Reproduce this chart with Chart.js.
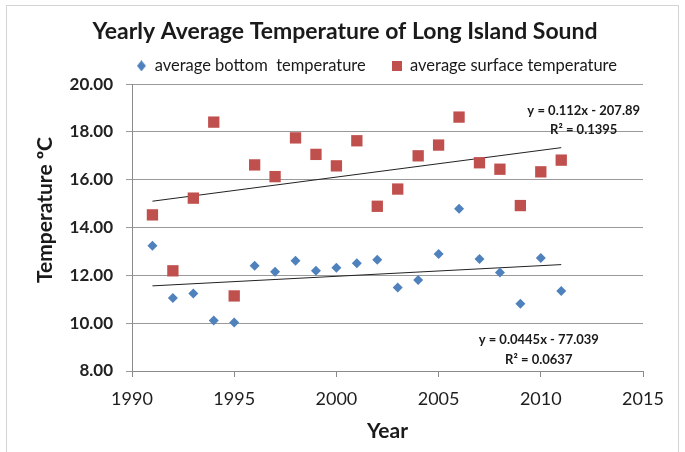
<!DOCTYPE html>
<html>
<head>
<meta charset="utf-8">
<script src="https://cdn.jsdelivr.net/npm/chart.js@4"></script>
<style>
  html, body { margin: 0; background: #fff; }
  canvas { display: block; }
</style>
</head>
<body>
<canvas id="chart" width="685" height="452"></canvas>
<script>
const years = [1991, 1992, 1993, 1994, 1995, 1996, 1997, 1998, 1999, 2000, 2001,
  2002, 2003, 2004, 2005, 2006, 2007, 2008, 2009, 2010, 2011];
const bottomTemps = [13.24, 11.05, 11.24, 10.11, 10.03, 12.40, 12.15, 12.61, 12.19, 12.32, 12.51,
  12.65, 11.49, 11.81, 12.89, 14.79, 12.68, 12.12, 10.81, 12.73, 11.35];
const surfaceTemps = [14.53, 12.19, 15.23, 18.41, 11.14, 16.62, 16.13, 17.75, 17.06, 16.58, 17.63,
  14.89, 15.61, 17.00, 17.45, 18.62, 16.71, 16.44, 14.92, 16.33, 16.82];
const seriesNames = ['average bottom  temperature', 'average surface temperature'];
const yearTicks = [1990, 1995, 2000, 2005, 2010, 2015];
const tempTicks = [8, 10, 12, 14, 16, 18, 20];

// trendline equations as printed on the chart (bottom, surface)
const fitSlopes = [0.0445, 0.112];
const fitIntercepts = [-77.039, -207.89];
const fitR2 = [0.0637, 0.1395];
// where each equation label sits, in data units (year, temp)
const fitLabelAt = [[2009.9, 9.3], [2012.1, 18.9]];

const BLUE = '#4f81bd';
const RED = '#c0504d';
const FONT = 'Lato, "Open Sans", sans-serif';

const points = (vals) => years.map((x, i) => ({ x, y: vals[i] }));
const trend = (k) => [years[0], years[years.length - 1]].map(x => ({ x, y: fitSlopes[k] * x + fitIntercepts[k] }));

const marker = (shape, w, h, color) => {
  const c = document.createElement('canvas');
  c.width = w; c.height = h;
  const g = c.getContext('2d');
  g.fillStyle = color;
  if (shape === 'diamond') {
    g.beginPath();
    g.moveTo(w / 2, 0); g.lineTo(w, h / 2); g.lineTo(w / 2, h); g.lineTo(0, h / 2);
    g.closePath();
    g.fill();
  } else {
    g.fillRect(0, 0, w, h);
  }
  return c;
}
const legendMarkers = [marker('diamond', 9, 11, BLUE), marker('square', 10, 10, RED)];

const decor = {
  id: 'decor',
  beforeDraw(chart) {
    const { ctx, width, height } = chart;
    ctx.save();
    ctx.fillStyle = '#fff';
    ctx.fillRect(0, 0, width, height);
    ctx.strokeStyle = '#d4d4d4';
    ctx.lineWidth = 1;
    ctx.strokeRect(6.5, 5.5, 672, height + 10);
    ctx.restore();
  },
  afterDraw(chart) {
    const { ctx, scales: { x, y } } = chart;
    ctx.save();
    // y axis title
    ctx.translate(45, 210);
    ctx.rotate(-Math.PI / 2);
    ctx.font = `bold 21px ${FONT}`;
    ctx.fillStyle = '#1a1a1a';
    ctx.textAlign = 'center';
    ctx.textBaseline = 'middle';
    ctx.fillText('Temperature ºC', 0, 0);
    ctx.restore();

    ctx.save();
    ctx.font = `bold 13px ${FONT}`;
    ctx.fillStyle = '#1a1a1a';
    ctx.textAlign = 'center';
    ctx.textBaseline = 'middle';
    fitLabelAt.forEach(([yr, t], k) => {
      const px = x.getPixelForValue(yr);
      const py = y.getPixelForValue(t);
      ctx.fillText(`y = ${fitSlopes[k]}x - ${Math.abs(fitIntercepts[k])}`, px, py);
      ctx.fillText(`R² = ${fitR2[k]}`, px, py + 19.5);
    });
    ctx.restore();
  }
};

new Chart(document.getElementById('chart'), {
  type: 'scatter',
  data: {
    datasets: [
      { label: seriesNames[0], data: points(bottomTemps), pointStyle: 'rectRot', pointRadius: 5,
        backgroundColor: BLUE, borderWidth: 0 },
      { label: seriesNames[1], data: points(surfaceTemps), pointStyle: 'rect', pointRadius: 8,
        backgroundColor: RED, borderWidth: 0 },
      { type: 'line', label: 'trend bottom', data: trend(0), borderColor: '#222', borderWidth: 1,
        pointRadius: 0 },
      { type: 'line', label: 'trend surface', data: trend(1), borderColor: '#222', borderWidth: 1,
        pointRadius: 0 },
    ]
  },
  options: {
    responsive: false,
    animation: false,
    devicePixelRatio: 1,
    layout: { padding: { left: 47, right: 42, top: 0, bottom: 0 } },
    scales: {
      x: {
        type: 'linear', min: 1990, max: 2015,
        afterBuildTicks: (s) => { s.ticks = yearTicks.map(value => ({ value })); },
        afterFit: (s) => { s.height = 81; },
        ticks: { callback: (v) => String(v), font: { family: FONT, size: 18 }, color: '#1e1e1e', padding: 11 },
        grid: { drawOnChartArea: false, drawTicks: true, tickLength: 6, color: '#8a8a8a' },
        border: { color: '#8a8a8a' },
        title: { display: true, text: 'Year', color: '#1a1a1a',
          font: { family: FONT, size: 21, weight: 'bold' }, padding: { top: 0, bottom: 8 } }
      },
      y: {
        min: 8, max: 20,
        afterBuildTicks: (s) => { s.ticks = tempTicks.map(value => ({ value })); },
        afterFit: (s) => { s.width = 132 - 47; },
        ticks: { callback: (v) => v.toFixed(2), font: { family: FONT, size: 17, weight: 'bold' },
          color: '#222', padding: 13 },
        grid: { color: '#9a9a9a', tickLength: 6 },
        border: { color: '#8a8a8a' }
      }
    },
    plugins: {
      title: {
        display: true,
        text: 'Yearly Average Temperature of Long Island Sound',
        color: '#1a1a1a',
        font: { family: FONT, size: 23, weight: 'bold', lineHeight: 1.2 },
        padding: { top: 18, bottom: -14 }
      },
      legend: {
        align: 'end',
        labels: {
          usePointStyle: true,
          boxWidth: 10,
          padding: 26,
          color: '#1a1a1a',
          font: { family: FONT, size: 16.5 },
          generateLabels: (chart) => Chart.defaults.plugins.legend.labels.generateLabels(chart)
            .filter(l => l.datasetIndex < 2)
            .map(l => ({ ...l, pointStyle: legendMarkers[l.datasetIndex] }))
        }
      },
      tooltip: { enabled: false }
    }
  },
  plugins: [decor]
});
</script>
</body>
</html>
